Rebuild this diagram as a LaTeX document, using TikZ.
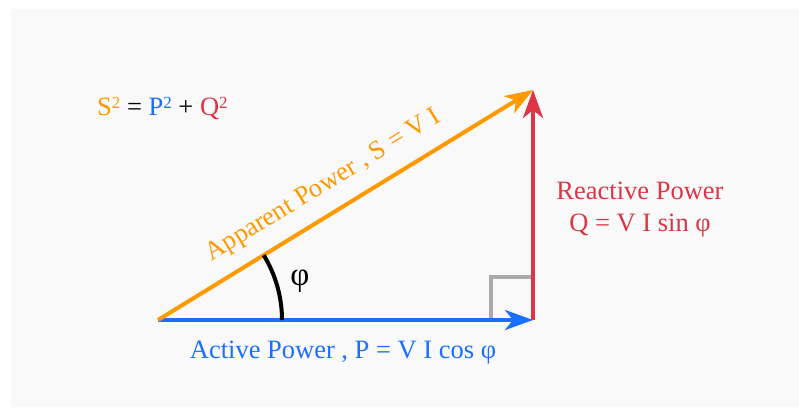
\documentclass[tikz,border=0pt]{standalone}
\usepackage{fontspec}
\setmainfont{Liberation Serif}
\usetikzlibrary{arrows.meta}
\definecolor{orng}{HTML}{FF9900}
\definecolor{blu}{HTML}{1A6FFF}
\definecolor{rd}{HTML}{DC3545}
\definecolor{bgc}{HTML}{F9F9F9}
\definecolor{gry}{HTML}{AAAAAA}
\newcommand{\sqd}{\raisebox{7pt}{\fontsize{17}{17}\selectfont 2}}
\begin{document}
\begin{tikzpicture}[x=1pt,y=-1pt,
  vec/.style={line width=4pt,-{Stealth[length=28pt,width=20pt,inset=8pt]}},
  lbl/.style={font=\fontsize{26.5}{30}\selectfont, inner sep=0pt}]
\useasboundingbox (0,0) rectangle (799,407);
\fill[bgc] (11,9) rectangle (799,407);
\coordinate (O) at (158,320);
\coordinate (A) at (533,320);
\coordinate (B) at (533,90);
\coordinate (r1) at (491,320);
\coordinate (r2) at (491,277);
\coordinate (r3) at (531,277);
\draw[gry, line width=4pt] (r1) -- (r2) -- (r3);
\draw[vec, blu] (O) -- (A);
\draw[vec, rd] (A) -- (B);
\draw[vec, orng] (O) -- (B) node[lbl, text=orng, sloped, pos=0.48, above=14pt] (ap) {Apparent Power ,\ S = V I};
\draw[black, line width=4pt] ([xshift=124pt]O) arc[start angle=0, end angle=-31.5, radius=124];
\node[lbl, font=\fontsize{33}{33}\selectfont] (phi) at (300,281) {φ};
\node[lbl, anchor=base west] (eq) at (97,115) {\textcolor{orng}{S\sqd} = \textcolor{blu}{P\sqd} + \textcolor{rd}{Q\sqd}};
\node[lbl, text=rd, anchor=base] (rp) at (640,199) {Reactive Power};
\node[lbl, text=rd, anchor=base] (qf) at (640,231) {Q = V I sin φ};
\node[lbl, text=blu, anchor=base] (pp) at (343,358) {Active Power ,\ P = V I cos φ};
\end{tikzpicture}
\end{document}
